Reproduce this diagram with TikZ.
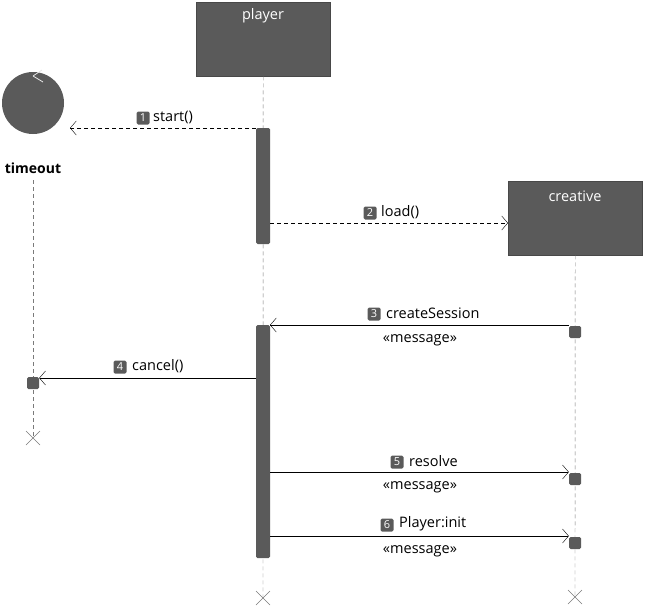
\documentclass[tikz,border=0pt]{standalone}
\usepackage{fontspec}
\setmainfont{Open Sans}
\usetikzlibrary{arrows.meta}
\definecolor{dk}{HTML}{5A5A5A}
\definecolor{ln}{HTML}{7A7A7A}
\begin{document}
\begin{tikzpicture}[x=1pt,y=-1pt,font=\fontsize{14.5}{16}\selectfont,
  box/.style={draw=dk!80!black,fill=dk,text=white,minimum width=134pt,minimum height=74pt,anchor=north west,inner sep=0},
  life/.style={draw=ln,dash pattern=on 4pt off 3pt},
  act/.style={fill=dk,rounded corners=1.5pt},
  sq/.style={fill=dk,rounded corners=1.5pt,minimum size=12pt,inner sep=0},
  msg/.style={draw=black,-{Straight Barb[length=6pt,width=14pt]}},
  dmsg/.style={msg,dash pattern=on 4pt off 3pt},
  num/.style={fill=dk,text=white,rounded corners=1.5pt,inner sep=1pt,minimum width=13pt,minimum height=13pt,font=\fontsize{11}{12}\selectfont},
  xx/.style={draw=ln}]
\useasboundingbox (0,0) rectangle (647,605);
% player
\node[box] (player) at (196,2) {};
\node[text=white] at (263,16) {player};
\coordinate (pe) at (263,598);
\draw[life] (player.south) -- (pe);
\draw[xx] ([shift={(-7,-7)}]pe) -- ([shift={(7,7)}]pe) ([shift={(-7,7)}]pe) -- ([shift={(7,-7)}]pe);
% timeout
\node[circle,fill=dk,minimum size=62pt,inner sep=0] (timeout) at (33,103) {};
\draw[white!85!dk,line width=0.8pt] (33,76) -- (42,70) (33,76) -- (43,82);
\node[font=\fontsize{14}{16}\selectfont\bfseries] (tl) at (33,168) {timeout};
\coordinate (te) at (33,438);
\draw[life] (33,180) -- (te);
\draw[xx] ([shift={(-7,-7)}]te) -- ([shift={(7,7)}]te) ([shift={(-7,7)}]te) -- ([shift={(7,-7)}]te);
\node[sq] (tsq) at (33,383) {};
% creative
\node[box] (creative) at (508,181) {};
\node[text=white] at (575,196) {creative};
\coordinate (ce) at (575,597);
\draw[life] (creative.south) -- (ce);
\draw[xx] ([shift={(-7,-7)}]ce) -- ([shift={(7,7)}]ce) ([shift={(-7,7)}]ce) -- ([shift={(7,-7)}]ce);
\node[sq] (c1) at (575,332) {};
\node[sq] (c2) at (575,479) {};
\node[sq] (c3) at (575,543) {};
% activations
\path[act] (256,128) rectangle (270,244);
\path[act] (256,325) rectangle (270,558);
\coordinate (a1) at (256,128);
\coordinate (a1r) at (270,223);
\coordinate (a2) at (270,325);
\coordinate (a2l) at (256,378);
\coordinate (a2r) at (270,472);
\coordinate (a3r) at (270,536);
% messages
\draw[dmsg] (a1) -- (70,128);
\node[num] at (143,118) {1}; \node[anchor=west,inner sep=0] at (153,117) {start()};
\draw[dmsg] (a1r) -- (creative.west |- a1r);
\node[num] at (370,213) {2}; \node[anchor=west,inner sep=0] at (381,212) {load()};
\draw[msg] (c1.west |- a2) -- (a2);
\node[num] at (374,314) {3}; \node[anchor=west,inner sep=0] at (386,313) {createSession};
\node at (420,340) {«message»};
\draw[msg] (a2l) -- (tsq.east |- a2l);
\node[num] at (120,367) {4}; \node[anchor=west,inner sep=0] at (132,366) {cancel()};
\draw[msg] (a2r) -- (c2.west |- a2r);
\node[num] at (397,462) {5}; \node[anchor=west,inner sep=0] at (409,461) {resolve};
\node at (420,487) {«message»};
\draw[msg] (a3r) -- (c3.west |- a3r);
\node[num] at (387,525) {6}; \node[anchor=west,inner sep=0] at (399,524) {Player:init};
\node at (420,551) {«message»};
\end{tikzpicture}
\end{document}
